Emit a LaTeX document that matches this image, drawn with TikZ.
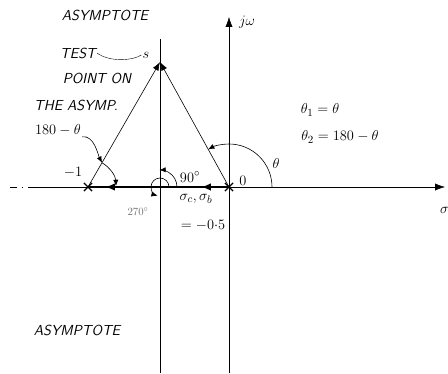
\documentclass[tikz,border=0pt]{standalone}
\usetikzlibrary{positioning,arrows.meta,calc,shapes.misc,decorations.markings}

\begin{document}
\begin{tikzpicture}[
    x=1pt, y=1pt,
    vec/.style={draw, semithick, -{Latex[length=3mm, width=2.2mm]}},
    anglearc/.style={draw, semithick, -{Latex[length=2.2mm, width=1.8mm]}},
    pole/.style={cross out, draw, very thick, minimum size=7pt, inner sep=0pt},
    hand/.style={font=\fontsize{14.5}{16}\selectfont\sffamily\slshape, inner sep=1pt},
    mathlbl/.style={font=\fontsize{15}{17}\selectfont, inner sep=1pt},
    midarrows/.style={decoration={markings,
        mark=at position 0.2 with {\arrow{Latex[length=3.5mm, width=2.6mm]}},
        mark=at position 0.88 with {\arrow{Latex[length=3.5mm, width=2.6mm]}}},
        postaction={decorate}},
]
\useasboundingbox (0,0) rectangle (448,373);

% axes and asymptote
\coordinate (O) at (229,186);
\coordinate (xl) at (10,186);
\coordinate (xd) at (34,186);
\coordinate (xr) at (445,186);
\coordinate (yt) at (229,356);
\coordinate (yb) at (229,0);
\coordinate (sig) at (160,186);
\coordinate (at) at (160,334);
\coordinate (ab) at (160,0);
\coordinate (s) at (160,311);

\node[pole] (p1) at (88,186) {};
\node[pole] (p0) at (O) {};

\draw[dash pattern=on 7pt off 5pt on 1pt off 5pt] (xl) -- (xd);
\draw (xd) -- (p1.center);
\draw[-{Latex[length=3.5mm, width=2.5mm]}] (O) -- (xr);
\draw[-{Latex[length=3.5mm, width=2.5mm]}] (yb) -- (yt);
\draw (ab) -- (at);
\draw[line width=2.4pt, midarrows] (O) -- (p1.center);

% vectors from the poles to the test point
\draw[vec] (p1.center) -- (s);
\draw[vec] (O) -- (s);

% angles
\draw[anglearc] ($(O)+(43,0)$) arc[start angle=0, end angle=119, radius=43];
\draw[anglearc] ($(p1.center)+(60:28)$) arc[start angle=60, end angle=2, radius=28];
\draw[anglearc] ($(sig)+(17,0)$) arc[start angle=0, end angle=92, radius=17];
\draw[anglearc] ($(sig)+(9,0)$) arc[start angle=0, end angle=255, radius=9];

% labels
\node[hand] (asytop) at (105,358) {ASYMPTOTE};
\node[hand] (tst) at (78,320) {TEST};
\node[mathlbl] (sl) at (146,318) {$s$};
\draw (tst.east) .. controls +(12,-9) and +(-10,-6) .. (sl.west);
\node[hand] (pon) at (97,295) {POINT ON};
\node[hand] (asy) at (76,268) {THE ASYMP.};
\node[mathlbl] (l180) at (58,243) {$180-\theta$};
\draw[anglearc] (l180.south east) .. controls +(12,2) and +(-4,8) .. ($(p1.center)+(60:28)$);
\node[mathlbl] (m1) at (73,201) {$-1$};
\node[font=\fontsize{11}{13}\selectfont, text=gray!80!black] (l270) at (138,161) {270$^{\circ}$};
\node[mathlbl] (l90) at (190,196) {$90^{\circ}$};
\node[mathlbl] (sigcb) at (196,174) {$\sigma_c, \sigma_b$};
\node[mathlbl] (half) at (203,148) {$=-0{\cdot}5$};
\node[mathlbl] (zero) at (243,192) {$0$};
\node[mathlbl] (th) at (276,209) {$\theta$};
\node[mathlbl] (jw) at (247,351) {$j\omega$};
\node[mathlbl] (th1) at (320,263) {$\theta_1 = \theta$};
\node[mathlbl] (th2) at (340,236) {$\theta_2 = 180-\theta$};
\node[mathlbl, anchor=west] (sg) at (439,163) {$\sigma$};
\node[hand] (asybot) at (77,43) {ASYMPTOTE};
\end{tikzpicture}
\end{document}
